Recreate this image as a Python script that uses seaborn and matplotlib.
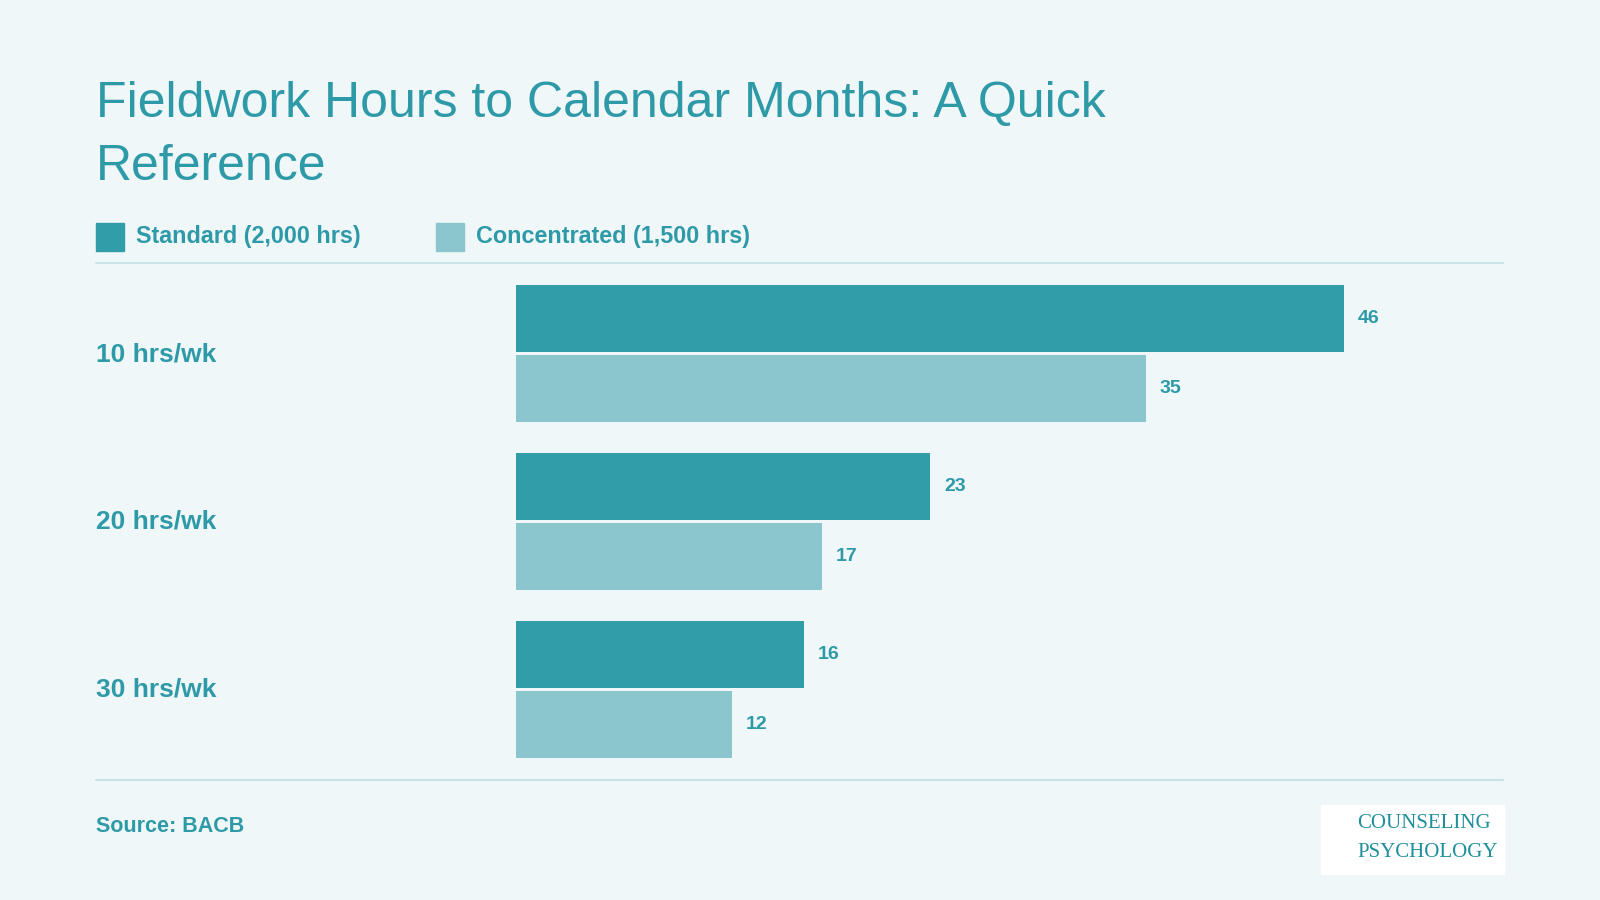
import matplotlib
matplotlib.use('Agg')
import matplotlib.pyplot as plt
import seaborn as sns
import pandas as pd
from matplotlib.patches import Rectangle
from matplotlib.lines import Line2D

categorie = ['10 hrs/wk', '20 hrs/wk', '30 hrs/wk']
standard = [46, 23, 16]
concentrato = [35, 17, 12]
serie = ['Standard (2,000 hrs)', 'Concentrated (1,500 hrs)']

SCURO = '#319da9'
CHIARO = '#8bc6cf'
SFONDO = '#eff7f8'
TESTO = '#2e9aa8'

df = pd.DataFrame({
    'cat': categorie * 2,
    'val': standard + concentrato,
    'serie': [serie[0]] * 3 + [serie[1]] * 3,
})

sns.set_style('white')
plt.rcParams['font.family'] = ['Liberation Sans', 'DejaVu Sans']

fig = plt.figure(figsize=(16, 9), dpi=100, facecolor=SFONDO)
W, H = 1568, 882
def fx(px): return px / W
def fy(py): return 1 - py / H

ax = fig.add_axes([fx(506), fy(764), fx(1473) - fx(506), fy(258) - fy(764)])
ax.set_facecolor(SFONDO)
sns.barplot(data=df, y='cat', x='val', hue='serie', orient='h', ax=ax,
            palette=[SCURO, CHIARO], width=0.84, gap=0.05, legend=False,
            saturation=1, linewidth=0)
ax.set_xlim(0, 54.85)
ax.set_ylim(2.538, -0.538)
ax.axis('off')

for cont in ax.containers:
    ax.bar_label(cont, padding=10, fontsize=14, fontweight='bold', color=TESTO)

for i, c in enumerate(categorie):
    fig.text(fx(94), fy(347 + i * 164.5), c, fontsize=19, fontweight='bold',
             color=TESTO, va='center', ha='left')

fig.text(fx(94), fy(102), 'Fieldwork Hours to Calendar Months: A Quick',
         fontsize=36, color=TESTO, va='center')
fig.text(fx(94), fy(164), 'Reference', fontsize=36, color=TESTO, va='center')

# legenda
for x0, col, lab in [(94, SCURO, serie[0]), (427, CHIARO, serie[1])]:
    fig.patches.append(Rectangle((fx(x0), fy(246)), fx(28), fy(219) - fy(246),
                                 transform=fig.transFigure, color=col))
    fig.text(fx(x0 + 39), fy(232), lab, fontsize=16.8, fontweight='bold',
             color=TESTO, va='center')

for yy in (258, 764):
    fig.add_artist(Line2D([fx(94), fx(1473)], [fy(yy), fy(yy)],
                          color='#c9e3e7', lw=1.5))

fig.text(fx(94), fy(810), 'Source: BACB', fontsize=15.5, fontweight='bold',
         color=TESTO, va='center')

fig.patches.append(Rectangle((fx(1295), fy(857)), fx(179), fy(789) - fy(857),
                             transform=fig.transFigure, color='white'))
fig.text(fx(1330), fy(807), 'COUNSELING', fontsize=15, family='Liberation Serif',
         color='#1f8f9c', va='center')
fig.text(fx(1330), fy(835), 'PSYCHOLOGY', fontsize=15, family='Liberation Serif',
         color='#1f8f9c', va='center')

fig.savefig('out.png', dpi=100, facecolor=SFONDO)
